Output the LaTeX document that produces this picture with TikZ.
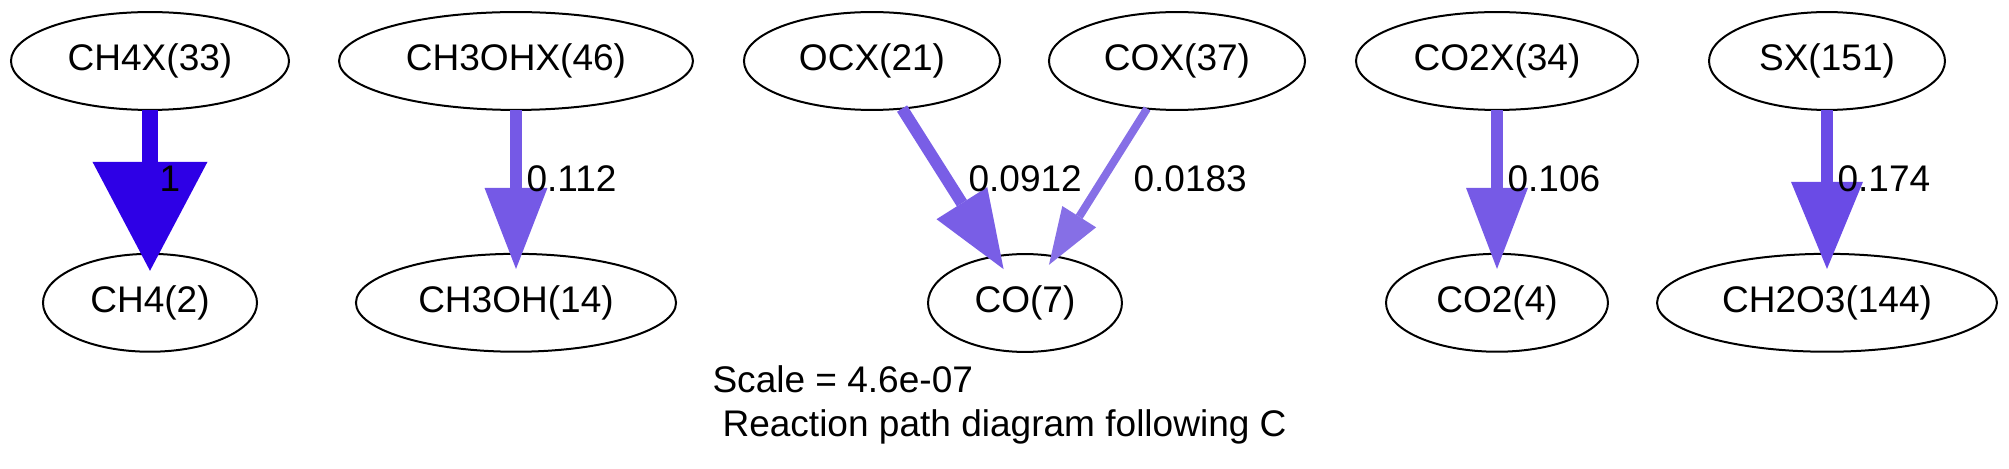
\documentclass[tikz,border=0pt]{standalone}
\usepackage{fontspec}
\setmainfont{Liberation Sans}
\usetikzlibrary{positioning}
\usetikzlibrary{shapes.geometric}
\usetikzlibrary{arrows.meta}

\definecolor{fluxA}{RGB}{46,0,230}
\definecolor{fluxB}{RGB}{117,89,230}
\definecolor{fluxC}{RGB}{121,94,230}
\definecolor{fluxD}{RGB}{134,111,230}
\definecolor{fluxE}{RGB}{118,90,230}
\definecolor{fluxF}{RGB}{106,75,230}

\begin{document}
\begin{tikzpicture}[x=0.378pt, y=-0.378pt,
  species/.style={ellipse, draw, line width=0.756pt, inner sep=0pt, outer sep=0pt,
    minimum height=37pt, font=\fontsize{14}{16}\selectfont},
  fluxlabel/.style={anchor=base west, inner sep=0pt, font=\fontsize{14}{16}\selectfont}]
  \useasboundingbox (0,0) rectangle (2009,469);

  \node(ch4x)[species, minimum width=105.1pt] at (150,61) {CH4X(33)};
  \node(ch4)[species, minimum width=80.9pt, below=54.4pt of ch4x] {CH4(2)};

  \node(ch3ohx)[species, minimum width=133.8pt] at (516,61) {CH3OHX(46)};
  \node(ch3oh)[species, minimum width=121pt, below=54.4pt of ch3ohx] {CH3OH(14)};

  \node(ocx)[species, minimum width=96.8pt] at (872,61) {OCX(21)};
  \node(cox)[species, minimum width=96.8pt] at (1177,61) {COX(37)};
  \node(co)[species, minimum width=73.3pt] at (1025,303) {CO(7)};

  \node(co2x)[species, minimum width=106.6pt] at (1497,61) {CO2X(34)};
  \node(co2)[species, minimum width=83.9pt, below=54.4pt of co2x] {CO2(4)};

  \node(sx)[species, minimum width=89.2pt] at (1827,61) {SX(151)};
  \node(ch2o3)[species, minimum width=128.5pt, below=54.4pt of sx] {CH2O3(144)};

  \draw[fluxA, line width=6.3pt, -{Triangle[length=41.2pt, width=43.5pt, line width=0pt]}, shorten >=-6.4pt] (ch4x) -- (ch4);
  \draw[fluxB, line width=4.5pt, -{Triangle[length=30.6pt, width=23.8pt, line width=0pt]}, shorten >=-5.7pt] (ch3ohx) -- (ch3oh);
  \draw[fluxC, line width=4.5pt, -{Triangle[length=29.5pt, width=22.7pt, line width=0pt]}, shorten >=-5.7pt] (ocx) -- (co);
  \draw[fluxD, line width=3pt, -{Triangle[length=21.5pt, width=15.1pt, line width=0pt]}, shorten >=-3.8pt] (cox) -- (co);
  \draw[fluxE, line width=4.4pt, -{Triangle[length=30.6pt, width=23.4pt, line width=0pt]}, shorten >=-5.7pt] (co2x) -- (co2);
  \draw[fluxF, line width=4.9pt, -{Triangle[length=32.9pt, width=27.2pt, line width=0pt]}, shorten >=-5.7pt] (sx) -- (ch2o3);

  \node(l1)[fluxlabel] at (159,192) {1};
  \node(l2)[fluxlabel] at (526,192) {0.112};
  \node(l3)[fluxlabel] at (968,192) {0.0912};
  \node(l4)[fluxlabel] at (1133,192) {0.0183};
  \node(l5)[fluxlabel] at (1507,192) {0.106};
  \node(l6)[fluxlabel] at (1837,192) {0.174};

  \node(scale)[fluxlabel] at (712,393) {Scale = 4.6e-07};
  \node(title)[fluxlabel] at (722,437) {Reaction path diagram following C};
\end{tikzpicture}
\end{document}
